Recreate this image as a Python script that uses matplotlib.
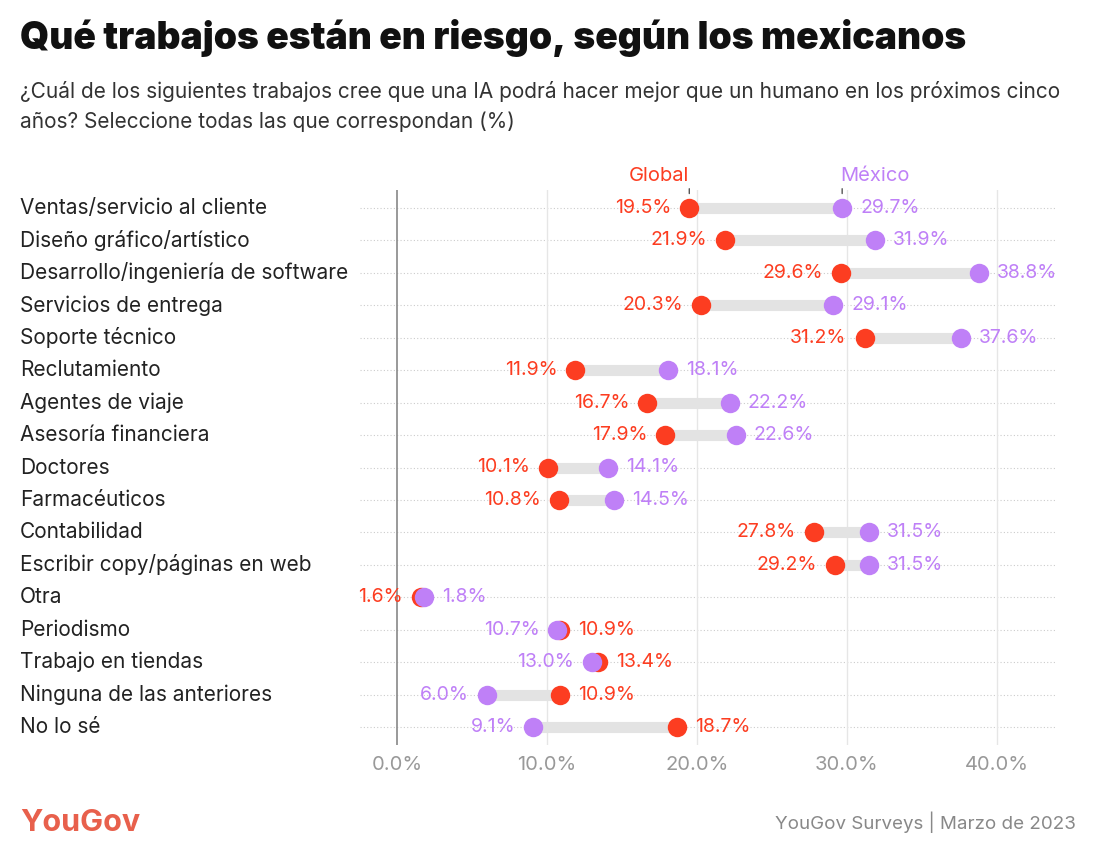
import matplotlib
matplotlib.use("Agg")
import matplotlib.pyplot as plt
import matplotlib.transforms as mtransforms

plt.rcParams['font.family'] = ['Inter', 'DejaVu Sans']

categories = ["Ventas/servicio al cliente", "Diseño gráfico/artístico",
              "Desarrollo/ingeniería de software", "Servicios de entrega",
              "Soporte técnico", "Reclutamiento", "Agentes de viaje",
              "Asesoría financiera", "Doctores", "Farmacéuticos", "Contabilidad",
              "Escribir copy/páginas en web", "Otra", "Periodismo",
              "Trabajo en tiendas", "Ninguna de las anteriores", "No lo sé"]
global_vals = [19.5, 21.9, 29.6, 20.3, 31.2, 11.9, 16.7, 17.9, 10.1, 10.8, 27.8,
               29.2, 1.6, 10.9, 13.4, 10.9, 18.7]
mexico_vals = [29.7, 31.9, 38.8, 29.1, 37.6, 18.1, 22.2, 22.6, 14.1, 14.5, 31.5,
               31.5, 1.8, 10.7, 13.0, 6.0, 9.1]
xticks = [0, 10, 20, 30, 40]

RED = "#fc3d21"
PURPLE = "#bf80f7"
GRAY_BAR = "#e3e3e3"

fig = plt.figure(figsize=(10.94, 8.58), dpi=100)
W, H = 1094, 858
ax = fig.add_axes([360 / W, 1 - 745 / H, (1055 - 360) / W, (745 - 190) / H])

n = len(categories)
ys = list(range(n))
ax.set_ylim(n - 1 + 0.555, -0.555)
ax.set_xlim(-2.47, 43.9)

# gridlines
for y in ys:
    ax.axhline(y, color="#cccccc", lw=0.8, ls=(0, (1, 2)), zorder=0)
for t in xticks:
    if t == 0:
        ax.axvline(t, color="#888888", lw=1.2, zorder=1)
    else:
        ax.axvline(t, color="#e6e6e6", lw=1.0, zorder=1)

off = 1.2
for y, g, m in zip(ys, global_vals, mexico_vals):
    ax.plot([g, m], [y, y], color=GRAY_BAR, lw=8, solid_capstyle="butt", zorder=2)
    ax.plot(g, y, "o", color=RED, ms=14, mec="none", zorder=3)
    ax.plot(m, y, "o", color=PURPLE, ms=14, mec="none", zorder=4)
    if g <= m:
        ax.text(g - off, y, f"{g:.1f}%", color=RED, ha="right", va="center", fontsize=14)
        ax.text(m + off, y, f"{m:.1f}%", color=PURPLE, ha="left", va="center", fontsize=14)
    else:
        ax.text(m - off, y, f"{m:.1f}%", color=PURPLE, ha="right", va="center", fontsize=14)
        ax.text(g + off, y, f"{g:.1f}%", color=RED, ha="left", va="center", fontsize=14)

# series labels above first row
for v in (global_vals[0], mexico_vals[0]):
    ax.annotate("", xy=(v, -0.36), xytext=(v, -0.68),
                arrowprops=dict(arrowstyle="-", color="#555555", lw=1), annotation_clip=False)
ax.text(global_vals[0], -1.0, "Global", color=RED, ha="right", va="center", fontsize=14.5)
ax.text(mexico_vals[0] - 0.1, -1.0, "México", color=PURPLE, ha="left", va="center", fontsize=14.5)

ax.set_xticks(xticks)
ax.set_xticklabels([f"{t:.1f}%" for t in xticks], color="#999999", fontsize=14.5)
ax.tick_params(axis="x", length=0, pad=8)
ax.set_yticks([])
for s in ax.spines.values():
    s.set_visible(False)

trans = mtransforms.blended_transform_factory(fig.transFigure, ax.transData)
for y, c in zip(ys, categories):
    ax.text(20 / W, y, c, transform=trans, fontsize=15, color="#222222",
            ha="left", va="center")

fig.text(20 / W, 1 - 38 / H, "Qué trabajos están en riesgo, según los mexicanos",
         fontsize=26.8, fontweight="black", color="#111111", ha="left", va="center")
fig.text(20 / W, 1 - 92 / H, "¿Cuál de los siguientes trabajos cree que una IA podrá hacer mejor que un humano en los próximos cinco",
         fontsize=15, color="#333333", ha="left", va="center")
fig.text(20 / W, 1 - 122 / H, "años? Seleccione todas las que correspondan (%)",
         fontsize=15, color="#333333", ha="left", va="center")

fig.text(20 / W, 1 - 823 / H, "YouGov", fontsize=22, fontweight="bold", color="#e8604c",
         ha="left", va="center")
fig.text(1076 / W, 1 - 822 / H, "YouGov Surveys | Marzo de 2023", fontsize=13.5,
         color="#888888", ha="right", va="center")

fig.savefig("out.png", dpi=100, facecolor="white")
